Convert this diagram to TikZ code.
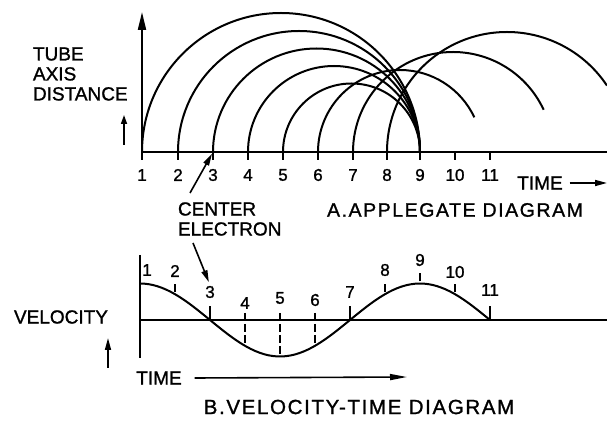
\documentclass[tikz,border=0pt]{standalone}
\usepackage{fontspec}
\setmainfont[FakeBold=1.2]{Liberation Sans}
\newfontfamily\wideletters[LetterSpace=8,FakeBold=1.2]{Liberation Sans}
\usetikzlibrary{arrows.meta}

\begin{document}
\begin{tikzpicture}[x=1pt,y=1pt,line width=2pt,
    lbl/.style={font=\fontsize{19}{20}\selectfont,inner sep=0pt},
    num/.style={font=\fontsize{17}{18}\selectfont,inner sep=0pt},
    ttl/.style={font=\wideletters\fontsize{#1}{22}\selectfont,inner sep=0pt},
    arr/.style={-{Triangle[length=12pt,width=6pt]}},
    tk/.style={line width=1.6pt}]
  \useasboundingbox (0,0) rectangle (607,420);

  % A. Applegate diagram
  \coordinate (orgA) at (142,268);
  \coordinate (topA) at (142,408);
  \coordinate (endA) at (607,268);
  \draw[-{Triangle[length=18pt,width=8pt]}] (orgA) -- (topA);
  \draw (orgA) -- (endA);
  \foreach \i/\x in {1/142,2/178,3/213,4/248,5/283,6/318,7/353,8/387,9/420,10/455,11/490} {
    \coordinate (a\i) at (\x,268);
    \draw[tk] (a\i) -- ++(0,-8);
    \node[num] (na\i) at (\x,245) {\i};
  }
  % bunched electrons meeting at 9
  \foreach \i/\r in {1/139,2/121,3/103.5,4/86,5/68.5}
    \draw (a\i) arc[start angle=180,end angle=0,radius=\r];
  % later ones
  \draw (a6) arc[start angle=180,end angle=25,radius=82];
  \draw (a7) arc[start angle=180,end angle=25,radius=100];
  \draw (a8) arc[start angle=180,end angle=33.6,radius=120];

  \node[lbl,anchor=west,align=left] (tad) at (32,346) {TUBE\\AXIS\\DISTANCE};
  \coordinate (upa0) at (124,275);
  \coordinate (upa1) at (124,305);
  \draw[tk,-{Triangle[length=9pt,width=6pt]}] (upa0) -- (upa1);

  \node[lbl] (timeA) at (540,237) {TIME};
  \coordinate (timeAend) at (607,237);
  \draw[tk,arr] ([xshift=6pt]timeA.east) -- (timeAend);

  \node[ttl=19.5] (ttlA) at (455,210) {A.APPLEGATE DIAGRAM};

  \node[lbl,anchor=west,align=left] (ctr) at (177,201) {CENTER\\ELECTRON};
  \coordinate (ctrA) at (190,227);
  \coordinate (ctrB) at (193,177);
  \draw[tk,arr,shorten >=2pt] (ctrA) -- (a3);

  % B. velocity-time diagram
  \coordinate (orgB) at (140,100);
  \coordinate (endB) at (607,100);
  \coordinate (vtop) at (140,165);
  \coordinate (vbot) at (140,62);
  \draw (vtop) -- (vbot);
  \draw (orgB) -- (endB);
  \draw plot[domain=0:350,samples=80] ({140+\x},{100+36.5*cos(\x*9/7)});

  \node[num] (nb1) at (147,150) {1};
  \foreach \i/\x/\ly in {2/175/149,8/385/150,9/420/160,10/455/148} {
    \coordinate (b\i) at (\x,{100+36.5*cos(45*(\i-1))});
    \draw[tk] ([yshift=2pt]b\i) -- ++(0,8);
    \node[num] (nb\i) at (\x,\ly) {\i};
  }
  \foreach \i/\x/\ly in {3/210/128,7/350/128,11/490/130} {
    \coordinate (b\i) at (\x,100);
    \draw[tk] (b\i) -- ++(0,14);
    \node[num] (nb\i) at (\x,\ly) {\i};
  }
  \foreach \i/\x/\ly in {4/245/117,5/280/122,6/315/120} {
    \coordinate (b\i) at (\x,{100+36.5*cos(45*(\i-1))});
    \draw[tk,dash pattern=on 8pt off 3pt] (\x,107) -- (b\i);
    \node[num] (nb\i) at (\x,\ly) {\i};
  }
  \draw[tk,arr,shorten >=3pt] (ctrB) -- (nb3.north);

  \node[lbl,anchor=west] (vel) at (13,103) {VELOCITY};
  \coordinate (upb0) at (108,52);
  \coordinate (upb1) at (108,82);
  \draw[tk,arr] (upb0) -- (upb1);

  \node[lbl] (timeB) at (159,42) {TIME};
  \coordinate (timeBend) at (407,43);
  \draw[tk,-{Triangle[length=17pt,width=6pt]}] ([xshift=12pt]timeB.east) -- (timeBend);

  \node[ttl=20.5] (ttlB) at (359,13) {B.VELOCITY-TIME DIAGRAM};
\end{tikzpicture}
\end{document}
